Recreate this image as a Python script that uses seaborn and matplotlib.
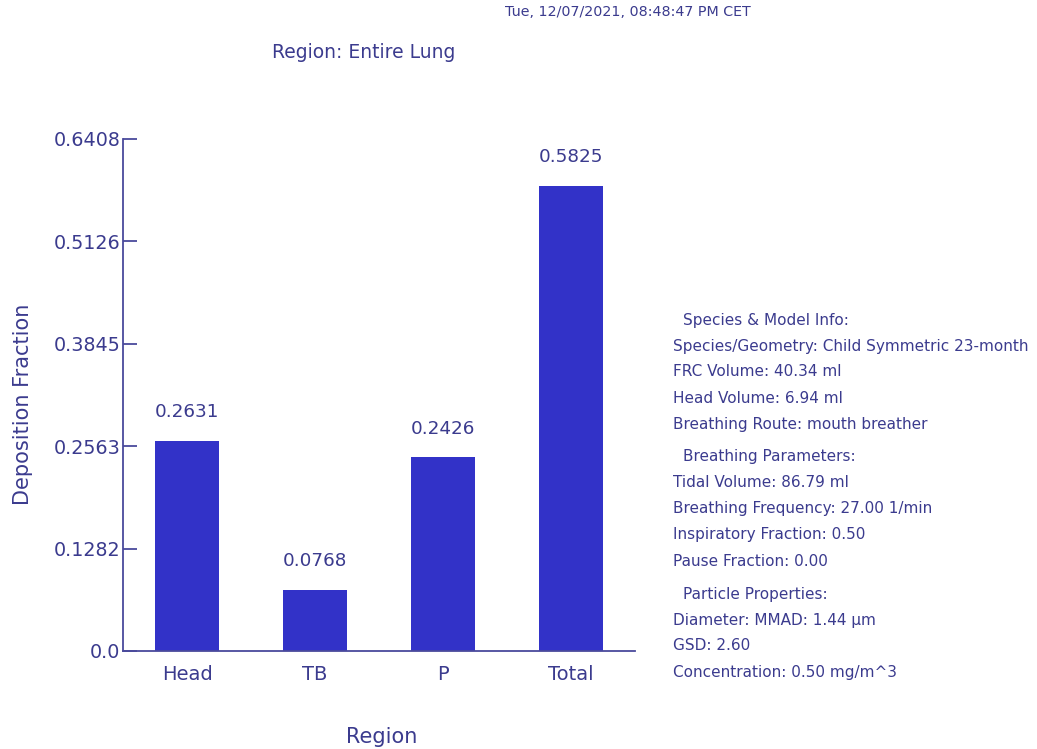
import matplotlib
matplotlib.use("Agg")
import matplotlib.pyplot as plt
import seaborn as sns

# Deposition fractions per lung region
regions = ["Head", "TB", "P", "Total"]
fractions = [0.2631, 0.0768, 0.2426, 0.5825]

# Y axis ticks as printed by the deposition model
ytick_values = [0.0, 0.1282, 0.2563, 0.3845, 0.5126, 0.6408]
ytick_labels = ["0.0", "0.1282", "0.2563", "0.3845", "0.5126", "0.6408"]

timestamp = "Tue, 12/07/2021, 08:48:47 PM CET"
title_text = "Region: Entire Lung"

# Side panel: (text, is_header)
info_lines = [
    ("Species & Model Info:", True),
    ("Species/Geometry: Child Symmetric 23-month", False),
    ("FRC Volume: 40.34 ml", False),
    ("Head Volume: 6.94 ml", False),
    ("Breathing Route: mouth breather", False),
    ("Breathing Parameters:", True),
    ("Tidal Volume: 86.79 ml", False),
    ("Breathing Frequency: 27.00 1/min", False),
    ("Inspiratory Fraction: 0.50", False),
    ("Pause Fraction: 0.00", False),
    ("Particle Properties:", True),
    ("Diameter: MMAD: 1.44 \u00b5m", False),
    ("GSD: 2.60", False),
    ("Concentration: 0.50 mg/m^3", False),
]

BAR = "#3232c8"
TEXT = "#3b3b8e"
AXIS = "#4a4a9c"

sns.set_theme(style="white")
plt.rcParams["font.family"] = ["DejaVu Sans"]

W, H = 1037, 749
fig = plt.figure(figsize=(W / 100, H / 100), dpi=100)
fig.patch.set_facecolor("white")
ax = fig.add_axes([123 / W, 1 - 651 / H, 512 / W, 512 / H])

sns.barplot(x=regions, y=fractions, width=0.5, color=BAR, saturation=1,
            linewidth=0, ax=ax)

ax.set_xlim(-0.5, 3.5)
ax.set_ylim(0, ytick_values[-1])
ax.set_yticks(ytick_values)
ax.set_yticklabels(ytick_labels)

for i, v in enumerate(fractions):
    ax.annotate(f"{v:.4f}", (i, v), xytext=(0, 14), textcoords="offset points",
                ha="center", va="bottom", fontsize=13.2, color=TEXT)

for side in ("top", "right"):
    ax.spines[side].set_visible(False)
for side in ("left", "bottom"):
    ax.spines[side].set_color(AXIS)
    ax.spines[side].set_linewidth(1.3)

ax.tick_params(axis="y", direction="in", length=10, width=1.3, color=AXIS,
               pad=2, labelsize=13.8, labelcolor=TEXT, left=True)
ax.tick_params(axis="x", length=0, pad=10, labelsize=14, labelcolor=TEXT)

ax.set_xlabel("Region", fontsize=15, color=TEXT)
ax.xaxis.set_label_coords(0.505, -0.148)
ax.set_ylabel("Deposition Fraction", fontsize=15, color=TEXT)
ax.yaxis.set_label_coords(-0.176, 0.482)

fig.text(364 / W, 1 - 52 / H, title_text, ha="center", va="center",
         fontsize=13.5, color=TEXT)
fig.text(628 / W, 1 - 12 / H, timestamp, ha="center", va="center",
         fontsize=10.3, color=TEXT)

y = 320
for k, (line, header) in enumerate(info_lines):
    if header and k > 0:
        y += 7
    x = 683 if header else 673
    fig.text(x / W, 1 - y / H, line, ha="left", va="center",
             fontsize=11, color=TEXT)
    y += 26

fig.savefig("out.png", dpi=100, facecolor="white")
